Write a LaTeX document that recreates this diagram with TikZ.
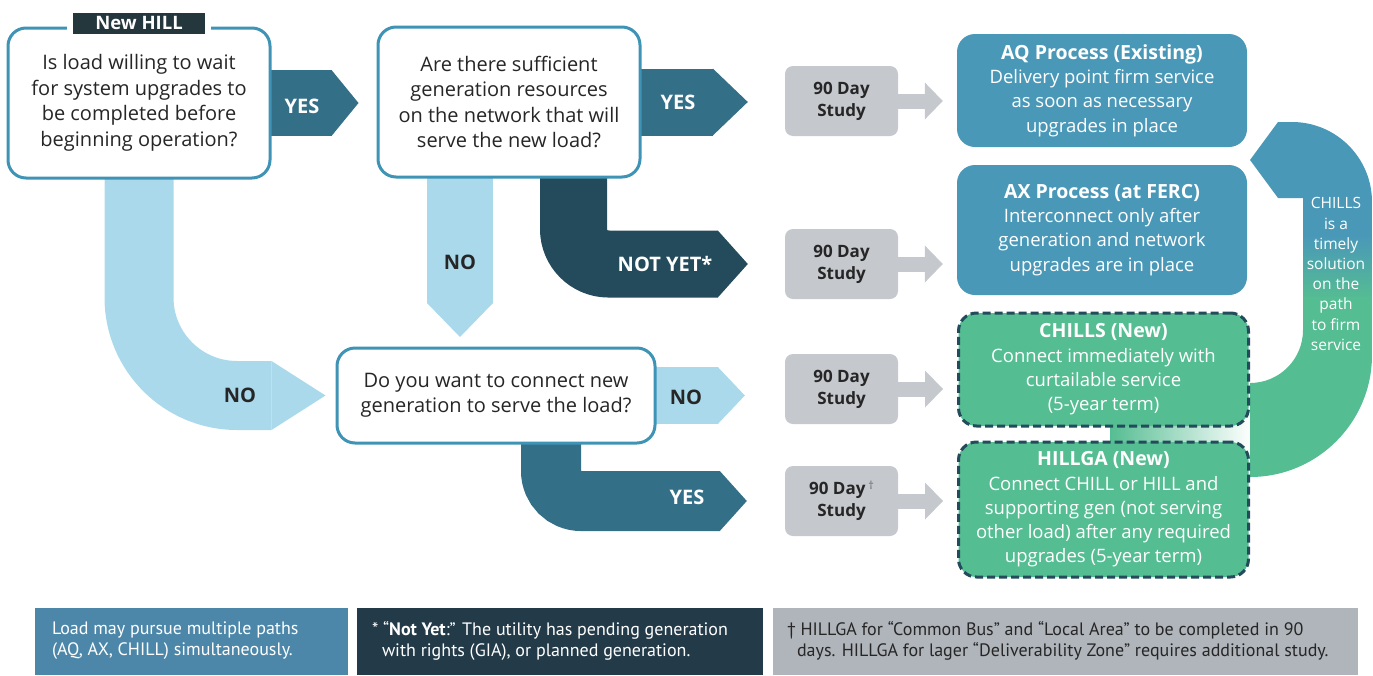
\documentclass[tikz,border=0pt]{standalone}
\usepackage{fontspec}
\setmainfont{Open Sans}
\newfontfamily\notefont{PT Sans}
\usetikzlibrary{arrows.meta,calc,fadings}

\definecolor{qborder}{HTML}{3F93B5}
\definecolor{noblue}{HTML}{A9D9EA}
\definecolor{yesteal}{HTML}{336F86}
\definecolor{darkteal}{HTML}{244B5B}
\definecolor{hilldark}{HTML}{24373D}
\definecolor{studygray}{HTML}{C5C8CD}
\definecolor{aqblue}{HTML}{4A98B8}
\definecolor{chgreen}{HTML}{55BD92}
\definecolor{textdark}{HTML}{262626}
\definecolor{noteblue}{HTML}{4C87A9}
\definecolor{notedark}{HTML}{233A48}
\definecolor{notegray}{HTML}{B0B5BB}

\pgfdeclarelayer{bg}
\pgfsetlayers{bg,main}

% blue at the top of the return band, green at its lower end
\pgfdeclareverticalshading{bandshade}{100bp}{color(0bp)=(chgreen); color(50bp)=(chgreen); color(59bp)=(aqblue); color(100bp)=(aqblue)}

\tikzset{
  question/.style={draw=qborder, line width=3pt, fill=white, rounded corners=18pt,
    align=center, text=textdark, inner sep=0pt,
    font=\fontsize{20}{25.5}\selectfont},
  study/.style={fill=studygray, rounded corners=8pt, minimum width=113pt,
    minimum height=70pt, align=center, text=textdark, inner sep=0pt,
    font=\bfseries\fontsize{17}{22}\selectfont},
  process/.style={fill=aqblue, rounded corners=18pt, minimum width=290pt,
    align=center, text=white, inner sep=0pt,
    font=\fontsize{18.5}{24.3}\selectfont},
  newproc/.style={process, fill=chgreen, draw=darkteal, line width=3pt,
    dash pattern=on 8pt off 4pt},
  fat/.style n args={3}{draw=#1, line width=#2pt,
    -{Triangle[width=#2pt,length=#3pt,line width=0pt]}},
  grayarrow/.style={draw=studygray, line width=15pt,
    -{Triangle[width=37pt,length=18pt,line width=0pt]}, shorten >=14pt},
  lbl/.style={font=\bfseries\fontsize{20}{24}\selectfont, inner sep=0pt},
  notebox/.style={minimum height=67pt, inner sep=0pt},
  notetext/.style={anchor=west, align=left, inner sep=0pt,
    font=\notefont\fontsize{18}{21}\selectfont},
}
\newcommand{\ptit}[1]{{\bfseries\fontsize{19.5}{24}\selectfont #1}}

\begin{document}
\begin{tikzpicture}[x=1pt,y=1pt]
\useasboundingbox (0,0) rectangle (1373,-675);

% question boxes
\node[question, minimum width=262pt, minimum height=150pt] (q1) at (139,-103)
  {Is load willing to wait\\for system upgrades to\\be completed before\\beginning operation?};
\node[question, minimum width=262pt, minimum height=150pt] (q2) at (509,-102)
  {Are there sufficient\\generation resources\\on the network that will\\serve the new load?};
\node[question, minimum width=318pt, minimum height=95pt] (q3) at (496,-395.5)
  {Do you want to connect new\\generation to serve the load?};

% title tab on the first question
\node[fill=hilldark, text=white, font=\bfseries\fontsize{18.5}{20}\selectfont,
  minimum width=132pt, minimum height=21pt, inner sep=0pt] (hill) at (139,-23) {New HILL};
\fill[white] ($(hill.south west)+(-6,-1)$) rectangle ($(hill.north west)+(0,1)$);
\fill[white] ($(hill.south east)+(0,-1)$) rectangle ($(hill.north east)+(6,1)$);

% study boxes
\node[study] (s1) at (841.5,-101) {90 Day\\Study};
\node[study] (s2) at (841.5,-264) {90 Day\\Study};
\node[study] (s3) at (841.5,-389) {90 Day\\Study};
\node[study] (s4) at (841.5,-501) {90 Day\,\raisebox{5pt}{\mdseries\fontsize{11}{12}\selectfont\color{textdark!70}†}\\Study};

% outcome boxes
\node[process, minimum height=113pt] (aq) at (1102,-90.5)
  {\ptit{AQ Process (Existing)}\\Delivery point firm service\\as soon as necessary\\upgrades in place};
\node[process, minimum height=130pt] (ax) at (1102,-230)
  {\ptit{AX Process (at FERC)}\\Interconnect only after\\generation and network\\upgrades are in place};
\node[newproc, minimum height=113pt] (ch) at (1103.5,-369.5)
  {\ptit{CHILLS (New)}\\Connect immediately with\\curtailable service\\(5-year term)};
\node[newproc, minimum height=135pt] (hg) at (1103.5,-509.5)
  {\ptit{HILLGA (New)}\\Connect CHILL or HILL and\\supporting gen (not serving\\other load) after any required\\upgrades (5-year term)};

\begin{pgfonlayer}{bg}
  % flow arrows
  \draw[fat={noblue}{69}{54}, rounded corners=98pt, shorten >=10pt] (q1.center) |- (q3.west);
  \coordinate (ndtip) at (460,-337);
  \draw[fat={noblue}{66}{34}] (q2.center -| ndtip) -- (ndtip);
  \draw[fat={yesteal}{66}{27}, shorten >=18pt] (q1.center) -- (q1.center -| q2.west);
  \draw[fat={yesteal}{67}{35}, shorten >=37pt] (q2.center) -- (q2.center -| s1.west);
  \draw[fat={darkteal}{67}{30}, rounded corners=35pt, shorten >=37pt]
    ($(q2.center)+(64.5,0)$) |- (s2.west);
  \draw[fat={noblue}{57}{27}, shorten >=40pt] (q3.center) -- (q3.center -| s3.west);
  \draw[fat={yesteal}{60}{27}, rounded corners=30pt, shorten >=38pt]
    ($(q3.center)+(55,0)$) |- (s4.west);
  % study to outcome
  \draw[grayarrow] (s1.center) -- (s1.center -| aq.west);
  \draw[grayarrow] (s2.center) -- (s2.center -| ax.west);
  \draw[grayarrow] (s3.center) -- (s3.center -| ch.west);
  \draw[grayarrow] (s4.center) -- (s4.center -| hg.west);
  % return band from the new services up to the firm-service processes
  \fill[chgreen, path fading=east] (1110,-383) rectangle (1251,-477);
  \shade[shading=bandshade] (1250,-160) -- (1278,-122) -- (1292,-122)
    arc[start angle=90, end angle=0, radius=80] -- (1372,-355)
    arc[start angle=0, end angle=-90, radius=122] -- (1250,-383)
    arc[start angle=-90, end angle=0, radius=53] -- (1303,-198) -- (1278,-198) -- cycle;
\end{pgfonlayer}

\node[text=white, align=center, font=\fontsize{15.5}{20.2}\selectfont, inner sep=0pt]
  (bandtxt) at (1336,-274) {CHILLS\\is a\\timely\\solution\\on the\\path\\to firm\\service};

% arrow labels
\node[lbl, text=white] (l1) at (302,-106) {YES};
\node[lbl, text=white] (l2) at (678,-102) {YES};
\node[lbl, text=textdark] (l3) at (460,-262) {NO};
\node[lbl, text=white] (l4) at (665,-264) {NOT YET*};
\node[lbl, text=textdark] (l5) at (240,-395) {NO};
\node[lbl, text=textdark] (l6) at (686,-397) {NO};
\node[lbl, text=white] (l7) at (687,-497) {YES};

% notes
\node[notebox, fill=noteblue, minimum width=313pt] (n1) at (191.5,-641) {};
\node[notebox, fill=notedark, minimum width=406pt] (n2) at (560,-641) {};
\node[notebox, fill=notegray, minimum width=585pt] (n3) at (1065.5,-641) {};
\node[notetext, text=white] (t1) at ($(n1.west)+(17,0)$)
  {Load may pursue multiple paths\\(AQ, AX, CHILL) simultaneously.};
\node[notetext, text=white] (t2) at ($(n2.west)+(15,0)$)
  {* “\textbf{Not Yet}:” The utility has pending generation\\\hspace*{10pt}with rights (GIA), or planned generation.};
\node[notetext, text=textdark] (t3) at ($(n3.west)+(14,0)$)
  {† HILLGA for “Common Bus” and “Local Area” to be completed in 90\\\hspace*{10pt}days. HILLGA for lager “Deliverability Zone” requires additional study.};
\end{tikzpicture}
\end{document}
